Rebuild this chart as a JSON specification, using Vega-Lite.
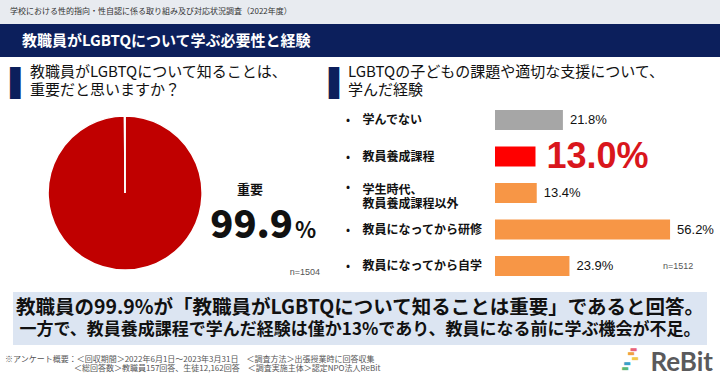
{
  "$schema": "https://vega.github.io/schema/vega-lite/v6.json",
  "padding": 0,
  "autosize": {"type": "pad"},
  "background": "#ffffff",
  "config": {"view": {"stroke": null}, "font": "Noto Sans CJK JP", "concat": {"spacing": 0}},
  "spacing": 0,
  "center": true,
  "resolve": {"scale": {"color": "independent", "x": "independent", "y": "independent"}},
  "vconcat": [
    {
      "width": 720, "height": 24,
      "view": {"fill": "#e8ebf0", "stroke": null},
      "data": {"values": [{"t": "学校における性的指向・性自認に係る取り組み及び対応状況調査（2022年度）"}]},
      "mark": {"type": "text", "align": "left", "baseline": "middle", "dx": -350, "fontSize": 8, "color": "#333333"},
      "encoding": {"text": {"field": "t", "type": "nominal"}}
    },
    {
      "width": 720, "height": 33,
      "view": {"fill": "#0c1f5c", "stroke": null},
      "data": {"values": [{"t": "教職員がLGBTQについて学ぶ必要性と経験"}]},
      "mark": {"type": "text", "align": "left", "baseline": "middle", "dx": -338, "fontSize": 15, "fontWeight": "bold", "color": "#ffffff"},
      "encoding": {"text": {"field": "t", "type": "nominal"}}
    },
    {
      "spacing": 0,
      "resolve": {"scale": {"color": "independent", "x": "independent", "y": "independent"}},
      "hconcat": [
        {
          "spacing": 0,
          "resolve": {"scale": {"color": "independent", "x": "independent", "y": "independent"}},
          "vconcat": [
            {
              "width": 340, "height": 43,
              "data": {"values": [{"t": "教職員がLGBTQについて知ることは、\n重要だと思いますか？"}]},
              "layer": [
                {"mark": {"type": "text", "text": "▌", "font": "DejaVu Sans", "fontSize": 27, "align": "left", "baseline": "middle", "dx": -160, "dy": 5.5, "color": "#0c1f5c"}, "encoding": {}},
                {"mark": {"type": "text", "text": "▐", "font": "DejaVu Sans", "fontSize": 27, "align": "right", "baseline": "middle", "dx": 169, "dy": 5.5, "color": "#0c1f5c"}, "encoding": {}},
                {"mark": {"type": "text", "align": "left", "baseline": "top", "lineBreak": "\n", "lineHeight": 18, "fontSize": 15, "dx": -140, "dy": -13.5, "color": "#111111"}, "encoding": {"text": {"field": "t", "type": "nominal"}}}
              ]
            },
            {
              "width": 250, "height": 186,
              "data": {"values": [{"answer": "重要", "pct": 99.9}, {"answer": "重要ではない", "pct": 0.1}]},
              "layer": [
                {
                  "mark": {"type": "arc", "outerRadius": 77, "stroke": "#ffffff", "strokeWidth": 1.5},
                  "encoding": {
                    "theta": {"field": "pct", "type": "quantitative", "stack": true},
                    "color": {"field": "answer", "type": "nominal", "scale": {"domain": ["重要", "重要ではない"], "range": ["#c00000", "#bfbfbf"]}, "legend": null},
                    "order": {"field": "pct", "type": "quantitative", "sort": "descending"}
                  }
                },
                {
                  "transform": [{"filter": "datum.answer === '重要'"}],
                  "mark": {"type": "text", "align": "center", "baseline": "middle", "dx": 125, "dy": -3, "fontSize": 13, "fontWeight": "bold", "color": "#111111"},
                  "encoding": {"text": {"field": "answer", "type": "nominal"}}
                },
                {
                  "transform": [{"filter": "datum.answer === '重要'"}],
                  "mark": {"type": "text", "align": "right", "baseline": "alphabetic", "dx": 168, "dy": 45, "fontSize": 38, "fontWeight": 900, "color": "#111111"},
                  "encoding": {"text": {"field": "pct", "type": "quantitative", "format": ".1f"}}
                },
                {
                  "transform": [{"filter": "datum.answer === '重要'"}],
                  "mark": {"type": "text", "text": "%", "align": "left", "baseline": "alphabetic", "dx": 170, "dy": 45, "fontSize": 22, "fontWeight": "bold", "color": "#111111"},
                  "encoding": {}
                },
                {
                  "transform": [{"filter": "datum.answer === '重要'"}],
                  "mark": {"type": "text", "text": "n=1504", "align": "right", "baseline": "middle", "dx": 195, "dy": 79, "fontSize": 9, "font": "Liberation Sans", "color": "#555555"},
                  "encoding": {}
                }
              ]
            }
          ]
        },
        {
          "width": 380, "height": 235,
          "data": {"values": [
            {"item": "学んでない", "share": 0.218},
            {"item": "教員養成課程", "share": 0.130},
            {"item": "学生時代、教員養成課程以外", "share": 0.134},
            {"item": "教員になってから研修", "share": 0.562},
            {"item": "教員になってから自学", "share": 0.239}
          ]},
          "layer": [
            {
              "data": {"values": [{"t": "LGBTQの子どもの課題や適切な支援について、\n学んだ経験"}]},
              "mark": {"type": "text", "align": "left", "baseline": "top", "lineBreak": "\n", "lineHeight": 18, "fontSize": 15, "dx": -182, "dy": -109.5, "color": "#111111"},
              "encoding": {"text": {"field": "t", "type": "nominal"}}
            },
            {
              "mark": {"type": "bar"},
              "encoding": {
                "y": {
                  "field": "item", "type": "nominal",
                  "scale": {"domain": ["学んでない", "教員養成課程", "学生時代、教員養成課程以外", "教員になってから研修", "教員になってから自学"], "range": [44.75, 227.25], "paddingInner": 0.45, "paddingOuter": 0.225},
                  "axis": {
                    "title": null, "domain": false, "ticks": false, "grid": false,
                    "labelAlign": "left", "labelPadding": -22, "labelFontSize": 12, "labelFontWeight": "bold",
                    "labelColor": "#111111", "labelLineHeight": 14, "labelLimit": 0, "minExtent": 0, "maxExtent": 0,
                    "labelOffset": {"condition": {"test": "datum.value == '学生時代、教員養成課程以外'", "value": -3}, "value": 0},
                    "labelExpr": "datum.value == '学生時代、教員養成課程以外' ? ['学生時代、', '教員養成課程以外'] : datum.value"
                  }
                },
                "x": {"field": "share", "type": "quantitative", "scale": {"domain": [0, 1], "range": [155, 466.5]}, "axis": null},
                "color": {
                  "field": "item", "type": "nominal",
                  "scale": {"domain": ["学んでない", "教員養成課程", "学生時代、教員養成課程以外", "教員になってから研修", "教員になってから自学"], "range": ["#a6a6a6", "#ff0000", "#f79646", "#f79646", "#f79646"]},
                  "legend": null
                }
              }
            },
            {
              "transform": [{"filter": "datum.item !== '学生時代、教員養成課程以外'"}],
              "mark": {"type": "text", "text": "•", "align": "left", "baseline": "middle", "dx": -184, "fontSize": 12, "color": "#111111"},
              "encoding": {"y": {"field": "item", "type": "nominal"}}
            },
            {
              "transform": [{"filter": "datum.item === '学生時代、教員養成課程以外'"}],
              "mark": {"type": "text", "text": "•", "align": "left", "baseline": "middle", "dx": -184, "dy": -6, "fontSize": 12, "color": "#111111"},
              "encoding": {"y": {"field": "item", "type": "nominal"}}
            },
            {
              "transform": [{"filter": "datum.item !== '教員養成課程'"}],
              "mark": {"type": "text", "align": "left", "baseline": "middle", "dx": 7, "fontSize": 13, "font": "Liberation Sans", "color": "#111111"},
              "encoding": {
                "y": {"field": "item", "type": "nominal"},
                "x": {"field": "share", "type": "quantitative"},
                "text": {"field": "share", "type": "quantitative", "format": ".1%"}
              }
            },
            {
              "transform": [{"filter": "datum.item === '教員養成課程'"}],
              "mark": {"type": "text", "align": "left", "baseline": "middle", "dx": 11, "fontSize": 36, "fontWeight": "bold", "font": "Liberation Sans", "color": "#d9161c"},
              "encoding": {
                "y": {"field": "item", "type": "nominal"},
                "x": {"field": "share", "type": "quantitative"},
                "text": {"field": "share", "type": "quantitative", "format": ".1%"}
              }
            },
            {
              "data": {"values": [{"t": "n"}]},
              "mark": {"type": "text", "text": "n=1512", "align": "left", "baseline": "middle", "dx": 133, "dy": 91.5, "fontSize": 9, "font": "Liberation Sans", "color": "#555555"},
              "encoding": {}
            }
          ]
        }
      ]
    },
    {
      "width": 694, "height": 53,
      "view": {"fill": "#dce5f2", "stroke": null},
      "data": {"values": [{
        "line1": "教職員の99.9%が「教職員がLGBTQについて知ることは重要」であると回答。",
        "line2": "一方で、教員養成課程で学んだ経験は僅か13%であり、教員になる前に学ぶ機会が不足。"
      }]},
      "layer": [
        {"mark": {"type": "text", "align": "center", "baseline": "middle", "dy": -10.5, "fontSize": 19.5, "fontWeight": "bold", "color": "#111111"}, "encoding": {"text": {"field": "line1", "type": "nominal"}}},
        {"mark": {"type": "text", "align": "center", "baseline": "middle", "dy": 11.5, "fontSize": 17, "fontWeight": "bold", "color": "#111111"}, "encoding": {"text": {"field": "line2", "type": "nominal"}}}
      ]
    },
    {
      "width": 720, "height": 33,
      "data": {"values": [{
        "note1": "※アンケート概要：＜回収期間＞2022年6月1日〜2023年3月31日　＜調査方法＞出張授業時に回答収集",
        "note2": "＜総回答数＞教職員157回答、生徒12,162回答　＜調査実施主体＞認定NPO法人ReBit"
      }]},
      "layer": [
        {"mark": {"type": "text", "align": "left", "baseline": "middle", "fontSize": 8, "dx": -355, "dy": -1.5, "color": "#555555"}, "encoding": {"text": {"field": "note1", "type": "nominal"}}},
        {"mark": {"type": "text", "align": "left", "baseline": "middle", "fontSize": 8, "dx": -286, "dy": 7.5, "color": "#555555"}, "encoding": {"text": {"field": "note2", "type": "nominal"}}},
        {"mark": {"type": "text", "text": "▬", "font": "DejaVu Sans", "fontSize": 8, "align": "center", "baseline": "middle", "dx": 273.5, "dy": -12, "color": "#e8637a"}, "encoding": {}},
        {"mark": {"type": "text", "text": "▬", "font": "DejaVu Sans", "fontSize": 8, "align": "center", "baseline": "middle", "dx": 271, "dy": -7.5, "color": "#f0a040"}, "encoding": {}},
        {"mark": {"type": "text", "text": "▬", "font": "DejaVu Sans", "fontSize": 8, "align": "center", "baseline": "middle", "dx": 275, "dy": -3, "color": "#f2c94a"}, "encoding": {}},
        {"mark": {"type": "text", "text": "▬", "font": "DejaVu Sans", "fontSize": 8, "align": "center", "baseline": "middle", "dx": 267, "dy": 2, "color": "#3aa0c8"}, "encoding": {}},
        {"mark": {"type": "text", "text": "▬", "font": "DejaVu Sans", "fontSize": 8, "align": "center", "baseline": "middle", "dx": 265, "dy": 7.5, "color": "#5ab878"}, "encoding": {}},
        {"mark": {"type": "text", "text": "ReBit", "align": "right", "baseline": "middle", "dx": 353, "dy": 1.5, "fontSize": 26, "font": "Lato", "fontWeight": "bold", "color": "#5a5a5c"}, "encoding": {}}
      ]
    }
  ]
}
